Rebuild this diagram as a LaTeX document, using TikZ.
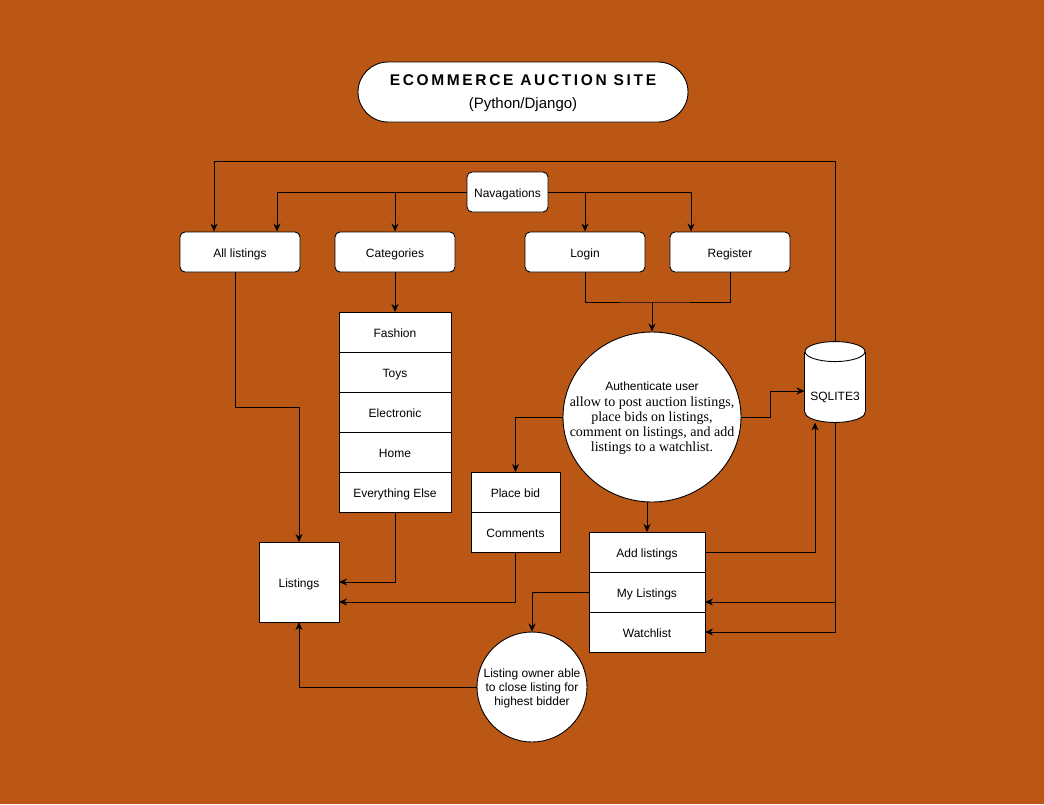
\documentclass[tikz,border=0pt]{standalone}
\usepackage{fontspec}
\setmainfont{Liberation Sans}
\newfontfamily\sansface{Liberation Sans}
\newfontfamily\serifface{Liberation Serif}
\usetikzlibrary{arrows.meta,positioning,shapes.geometric}
\definecolor{rust}{RGB}{187,87,20}
\tikzset{>={Stealth[length=8pt,width=7pt,inset=2.5pt]}}

\begin{document}
\begin{tikzpicture}[x=1pt,y=1pt,line width=0.9pt]
	\tikzset{rblock/.style={draw, fill=white, rounded corners=5pt, minimum width=120pt, minimum height=40pt, text height=12.5pt, text depth=2.5pt, font=\fontsize{12}{14}\selectfont},
		cell/.style={draw, fill=white, outer sep=0pt, minimum height=40pt, text height=12.5pt, text depth=2.5pt, font=\fontsize{12}{14}\selectfont},
		bubble/.style={draw, fill=white, ellipse, inner ysep=0pt, text depth=0pt, align=center},
	}
	\fill[rust] (0,0) rectangle (1044,-804);
	\useasboundingbox (0,0) rectangle (1044,-804);
	
	\node [draw, fill=white, rounded corners=30pt, minimum width=330pt, minimum height=60pt, text depth=0pt, align=center] (title) at (523,-92) {{\fontsize{15.5}{18}\selectfont\bfseries\addfontfeature{LetterSpace=17}ECOMMERCE AUCTION SITE}\\[11pt]{\fontsize{15}{18}\selectfont (Python/Django)}};
	
	\node [rblock, minimum width=81pt] (nav) at (507.5,-192) {Navagations};
	\node [rblock] (all) at (240,-252) {All listings};
	\node [rblock] (cat) at (395,-252) {Categories};
	\node [rblock] (login) at (585,-252) {Login};
	\node [rblock] (reg) at (730,-252) {Register};
	
	\node [cell, minimum width=112pt] (fashion) at (395,-332) {Fashion};
	\node [cell, minimum width=112pt, below=0pt of fashion] (toys) {Toys};
	\node [cell, minimum width=112pt, below=0pt of toys] (elec) {Electronic};
	\node [cell, minimum width=112pt, below=0pt of elec] (home) {Home};
	\node [cell, minimum width=112pt, below=0pt of home] (else) {Everything Else};
	
	\node [cell, minimum width=80pt, minimum height=80pt] (listings) at (299,-582) {Listings};
	
	\node [cell, minimum width=89pt] (bid) at (515.5,-492) {Place bid};
	\node [cell, minimum width=89pt, below=0pt of bid] (comments) {Comments};
	
	\node [cell, minimum width=116pt] (addl) at (647,-552) {Add listings};
	\node [cell, minimum width=116pt, below=0pt of addl] (mylist) {My Listings};
	\node [cell, minimum width=116pt, below=0pt of mylist] (watch) {Watchlist};
	
	\node [bubble, inner xsep=-20pt, minimum width=178pt, minimum height=170pt, font=\serifface\fontsize{14}{15.3}\selectfont] (auth) at (652,-417) {{\sansface\fontsize{12}{14}\selectfont Authenticate user}\\allow to post auction listings,\\place bids on listings,\\comment on listings, and add\\listings to a watchlist.};
	\node [bubble, inner xsep=-13pt, minimum width=110pt, minimum height=110pt, font=\fontsize{12}{14}\selectfont] (owner) at (532,-687) {Listing owner able\\to close listing for\\highest bidder};
	
	% database cylinder
	\node [minimum width=60pt, minimum height=80pt] (db) at (835,-382) {};
	\draw [fill=white] ([yshift=10pt]db.south) ellipse [x radius=30pt, y radius=10pt];
	\fill [white] ([yshift=-10pt]db.north west) rectangle ([yshift=10pt]db.south east);
	\draw ([yshift=-10pt]db.north west) -- ([yshift=10pt]db.south west);
	\draw ([yshift=-10pt]db.north east) -- ([yshift=10pt]db.south east);
	\draw [fill=white] ([yshift=-10pt]db.north) ellipse [x radius=30pt, y radius=10pt];
	\node [font=\fontsize{12}{14}\selectfont] (dblabel) at ([yshift=-15pt]db.center) {SQLITE3};
	
	\draw [->] (nav.west) -| ([xshift=37pt]all.north);
	\draw [->] (nav.west -| cat.north) -- (cat.north);
	\draw [->] (nav.east) -| ([xshift=-39pt]reg.north);
	\draw [->] (nav.east -| login.north) -- (login.north);
	\draw [->] (db.north) -- ++(0,180) -| ([xshift=-26pt]all.north);
	
	\draw [->] ([xshift=-5pt]all.south) -- ++(0,-135) -| (listings.north);
	\draw [->] (cat.south) -- (fashion.north);
	\draw [->] (else.south) |- (listings.east);
	\draw [->] (comments.south) |- ([yshift=-20pt]listings.east);
	
	\coordinate (merge) at (652,-302);
	\draw (login.south) |- (merge) -| (reg.south);
	\draw [->] (merge) -- (auth.north);
	\draw [->] (auth.east) -- ++(29,0) |- ([yshift=-9pt]db.west);
	\draw [->] (auth.west) -| (bid.north);
	\draw [->] (auth.south -| addl.north) -- (addl.north);
	
	\draw [->] (addl.east) -| ([xshift=-20pt]db.south);
	\draw [->] (db.south) |- ([yshift=-10pt]mylist.east);
	\draw [->] (db.south) |- (watch.east);
	\draw [->] (mylist.west) -| (owner.north);
	\draw [->] (owner.west) -| (listings.south);
\end{tikzpicture}
\end{document}
